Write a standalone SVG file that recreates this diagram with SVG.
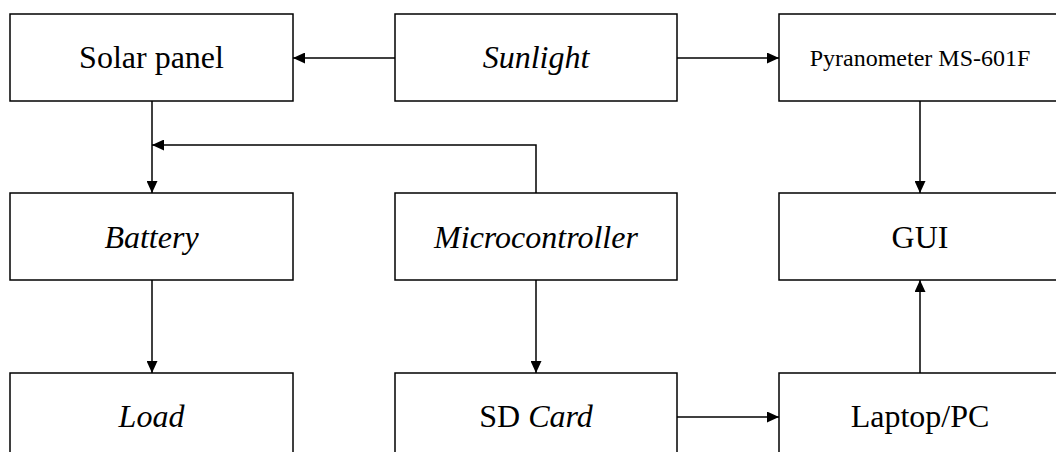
<svg xmlns="http://www.w3.org/2000/svg" width="1056" height="452" viewBox="0 0 1056 452">
  <style>
    .box { fill: #ffffff; stroke: #000000; stroke-width: 1.5; }
    .lbl { font-family: "Liberation Serif", "Times New Roman", serif; font-size: 32px; fill: #000000; text-anchor: middle; }
    .small { font-size: 24px; }
    .it { font-style: italic; }
    .wire { fill: none; stroke: #000000; stroke-width: 1.5; }
  </style>
  <defs>
    <marker id="arrow" markerUnits="userSpaceOnUse" markerWidth="12" markerHeight="11" refX="12" refY="5.5" orient="auto">
      <path d="M0,0 L12,5.5 L0,11 z" fill="#000000"/>
    </marker>
  </defs>
  <rect width="1056" height="452" fill="#ffffff"/>

  <!-- row 1 -->
  <g id="solar-panel">
    <rect class="box" x="10" y="14" width="283" height="87"/>
    <text class="lbl" x="151.5" y="68">Solar panel</text>
  </g>
  <g id="sunlight">
    <rect class="box" x="395" y="14" width="282" height="87"/>
    <text class="lbl it" x="536" y="68">Sunlight</text>
  </g>
  <g id="pyranometer">
    <rect class="box" x="779" y="14" width="282" height="87"/>
    <text class="lbl small" x="920" y="66">Pyranometer MS-601F</text>
  </g>

  <!-- row 2 -->
  <g id="battery">
    <rect class="box" x="10" y="193" width="283" height="87"/>
    <text class="lbl it" x="151.5" y="248">Battery</text>
  </g>
  <g id="microcontroller">
    <rect class="box" x="395" y="193" width="282" height="87"/>
    <text class="lbl it" x="536" y="248">Microcontroller</text>
  </g>
  <g id="gui">
    <rect class="box" x="779" y="193" width="282" height="87"/>
    <text class="lbl" x="920" y="248">GUI</text>
  </g>

  <!-- row 3 -->
  <g id="load">
    <rect class="box" x="10" y="373" width="283" height="90"/>
    <text class="lbl it" x="151.5" y="427">Load</text>
  </g>
  <g id="sd-card">
    <rect class="box" x="395" y="373" width="282" height="90"/>
    <text class="lbl" x="536" y="427">SD <tspan class="it">Card</tspan></text>
  </g>
  <g id="laptop-pc">
    <rect class="box" x="779" y="373" width="282" height="90"/>
    <text class="lbl" x="920" y="427">Laptop/PC</text>
  </g>

  <!-- connectors -->
  <g id="connectors">
    <line class="wire" x1="395" y1="58" x2="293" y2="58" marker-end="url(#arrow)"/>
    <line class="wire" x1="677" y1="58" x2="779" y2="58" marker-end="url(#arrow)"/>
    <line class="wire" x1="152" y1="101" x2="152" y2="193" marker-end="url(#arrow)"/>
    <polyline class="wire" points="536,193 536,145 152,145" marker-end="url(#arrow)"/>
    <line class="wire" x1="920" y1="101" x2="920" y2="193" marker-end="url(#arrow)"/>
    <line class="wire" x1="152" y1="280" x2="152" y2="373" marker-end="url(#arrow)"/>
    <line class="wire" x1="536" y1="280" x2="536" y2="373" marker-end="url(#arrow)"/>
    <line class="wire" x1="920" y1="373" x2="920" y2="280" marker-end="url(#arrow)"/>
    <line class="wire" x1="677" y1="417" x2="779" y2="417" marker-end="url(#arrow)"/>
  </g>
</svg>
